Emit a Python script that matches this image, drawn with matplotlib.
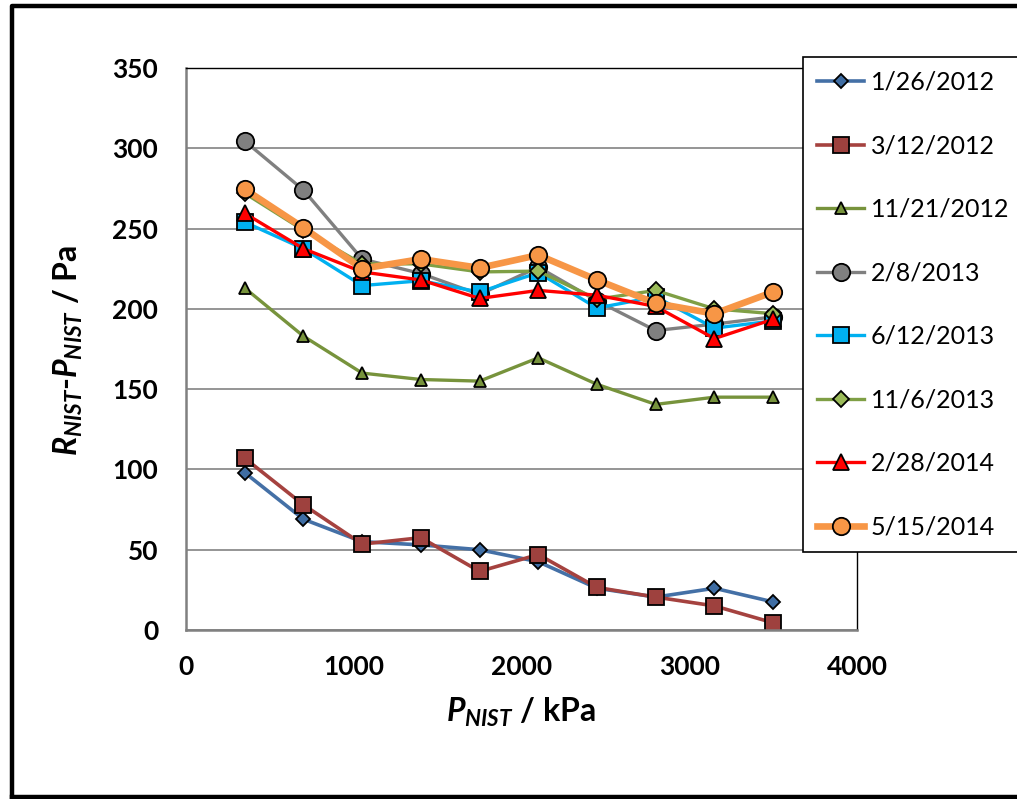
import numpy as np
import matplotlib
matplotlib.use('Agg')
import matplotlib.pyplot as plt
from matplotlib.lines import Line2D

plt.rcParams['font.family'] = ['Lato', 'DejaVu Sans']
plt.rcParams['mathtext.fontset'] = 'custom'
plt.rcParams['mathtext.it'] = 'Lato:italic:bold'
plt.rcParams['mathtext.rm'] = 'Lato:bold'
plt.rcParams['mathtext.bf'] = 'Lato:bold'

# pressure points, kPa
p_nist = [350, 700, 1050, 1400, 1750, 2100, 2450, 2800, 3150, 3500]

# R_NIST - P_NIST, Pa
d_2012_01_26 = [98, 69, 55, 53, 50, 42.5, 26, 20.5, 26, 17.5]
d_2012_03_12 = [107, 78, 53.5, 57.5, 36.5, 47, 26.5, 20.5, 15, 4.5]
d_2012_11_21 = [213, 183, 160, 156, 155, 169.5, 153, 140.5, 145, 145]
d_2013_02_08 = [304.5, 274, 231, 222, 209, 226, 205, 186.5, 190.5, 195]
d_2013_06_12 = [254, 237.5, 214.5, 217.5, 210.5, 222.5, 200.5, 207.5, 188, 192.5]
d_2013_11_06 = [272, 249, 228, 228, 223, 223.5, 206, 211.5, 200, 197]
d_2014_02_28 = [259.5, 237.5, 223, 218, 206.5, 211.5, 208.5, 201.5, 181.5, 193.5]
d_2014_05_15 = [274.5, 250.5, 225, 231, 225.5, 233.5, 218, 203.5, 197, 210.5]

labels = ['1/26/2012', '3/12/2012', '11/21/2012', '2/8/2013',
          '6/12/2013', '11/6/2013', '2/28/2014', '5/15/2014']
series = [d_2012_01_26, d_2012_03_12, d_2012_11_21, d_2013_02_08,
          d_2013_06_12, d_2013_11_06, d_2014_02_28, d_2014_05_15]

# (line colour, marker face, marker, marker size, line width)
styles = [
    ('#4470A6', '#3F6DA3', 'D', 7.5, 2.6),
    ('#A5423F', '#9E413E', 's', 11.5, 2.6),
    ('#77933C', '#77933C', '^', 9, 2.4),
    ('#808080', '#808080', 'o', 12.5, 2.4),
    ('#00B0F0', '#00B0F0', 's', 11.5, 2.4),
    ('#7F9F45', '#9BBB59', 'D', 8, 2.4),
    ('#FF0000', '#FF0000', '^', 11, 2.4),
    ('#F79646', '#F79646', 'o', 12.5, 4.8),
]

fig = plt.figure(figsize=(10.17, 7.99), dpi=100)
ax = fig.add_axes([186 / 1017, 1 - 630 / 799, 671 / 1017, 562 / 799])

for lab, ys, (lc, mfc, mk, ms, lw) in zip(labels, series, styles):
    ax.plot(p_nist, ys, color=lc, lw=lw, marker=mk, ms=ms, mfc=mfc,
            mec='black', mew=1.3, label=lab, solid_joinstyle='round')

ax.set_xlim(0, 4000)
ax.set_ylim(0, 350)
ax.set_xticks([0, 1000, 2000, 3000, 4000])
ax.set_yticks([0, 50, 100, 150, 200, 250, 300, 350])
ax.yaxis.grid(True, color='#8C8C8C', lw=1.3)
ax.set_axisbelow(True)
ax.tick_params(length=0, labelsize=19)
ax.tick_params(axis='x', pad=18)
ax.tick_params(axis='y', pad=20)
for t in ax.get_xticklabels() + ax.get_yticklabels():
    t.set_fontweight('bold')

ax.spines['left'].set_color('#808080')
ax.spines['left'].set_linewidth(1.8)
ax.spines['bottom'].set_color('#808080')
ax.spines['bottom'].set_linewidth(1.8)
ax.spines['top'].set_color('black')
ax.spines['top'].set_linewidth(1.0)
ax.spines['right'].set_color('black')
ax.spines['right'].set_linewidth(1.0)

fig.text(521 / 1017, 1 - 712 / 799, r'$P_{NIST}$ / kPa', ha='center',
         va='center', fontsize=23, fontweight='bold')
fig.text(68 / 1017, 1 - 350 / 799, r'$R_{NIST}$-$P_{NIST}$ / Pa',
         ha='center', va='center', rotation=90, fontsize=23,
         fontweight='bold')

leg = ax.legend(loc='upper left', bbox_to_anchor=(803 / 1017, 1 - 57 / 799),
                bbox_transform=fig.transFigure, borderaxespad=0,
                fancybox=False, edgecolor='black', framealpha=1,
                fontsize=18, labelspacing=1.62, handlelength=1.9,
                handletextpad=0.25, borderpad=0.55)
leg.get_frame().set_linewidth(1.2)

# outer chart border (right side runs off the image)
fig.add_artist(Line2D([12 / 1017, 12 / 1017, 1.01], [1 - 797 / 799, 1 - 6 / 799, 1 - 6 / 799],
                      transform=fig.transFigure, color='black', lw=3.2))
fig.add_artist(Line2D([12 / 1017, 1.01], [1 - 797 / 799, 1 - 797 / 799],
                      transform=fig.transFigure, color='black', lw=3.2))

fig.savefig('out.png', dpi=100)
